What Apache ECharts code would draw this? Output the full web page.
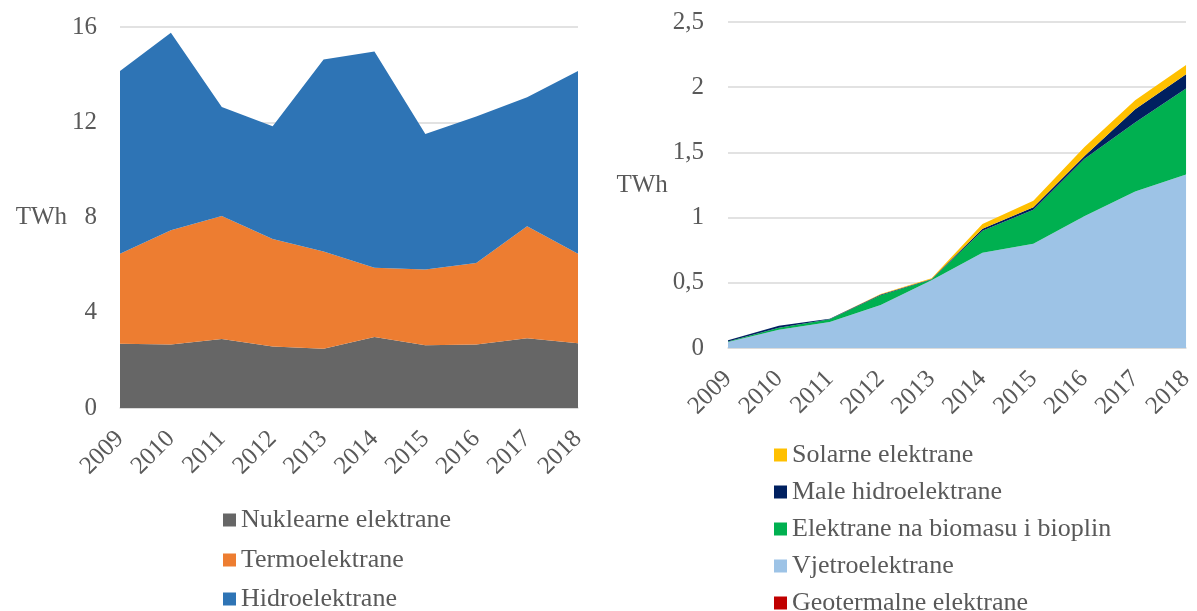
<!DOCTYPE html>
<html>
<head>
<meta charset="utf-8">
<script src="https://cdn.jsdelivr.net/npm/echarts@6/dist/echarts.min.js"></script>
<style>
html,body{margin:0;padding:0;background:#fff;}
#c{width:1197px;height:611px;}
</style>
</head>
<body>
<div id="c"></div>
<script>
// ---- data ----
const years = ['2009','2010','2011','2012','2013','2014','2015','2016','2017','2018'];

// left chart (TWh)
const nuklearne = [2.70, 2.67, 2.90, 2.58, 2.49, 2.98, 2.63, 2.67, 2.93, 2.72];
const termo     = [3.78, 4.79, 5.16, 4.52, 4.08, 2.91, 3.19, 3.42, 4.70, 3.76];
const hidro     = [7.67, 8.30, 4.58, 4.73, 8.06, 9.08, 5.69, 6.15, 5.42, 7.67];
const leftTicks = [0, 4, 8, 12, 16];

// right chart (TWh)
const geotermalne = [0, 0, 0, 0, 0, 0, 0, 0, 0, 0];
const vjetro      = [0.046, 0.14, 0.20, 0.33, 0.52, 0.73, 0.80, 1.01, 1.20, 1.33];
const biomasa     = [0.004, 0.015, 0.02, 0.075, 0.005, 0.17, 0.26, 0.44, 0.53, 0.66];
const maleHidro   = [0.01, 0.015, 0.005, 0.005, 0.005, 0.015, 0.02, 0.02, 0.10, 0.11];
const solarne     = [0, 0, 0, 0.005, 0.005, 0.035, 0.05, 0.07, 0.07, 0.07];
const rightTicks  = ['0', '0,5', '1', '1,5', '2', '2,5'];

const leftNames  = ['Nuklearne elektrane', 'Termoelektrane', 'Hidroelektrane'];
const rightNames = ['Geotermalne elektrane', 'Vjetroelektrane', 'Elektrane na biomasu i bioplin', 'Male hidroelektrane', 'Solarne elektrane'];
const rightLegendOrder = ['Solarne elektrane', 'Male hidroelektrane', 'Elektrane na biomasu i bioplin', 'Vjetroelektrane', 'Geotermalne elektrane'];

// ---- style ----
const FONT = '"Liberation Serif", "Times New Roman", serif';
const TXT = '#595959';
const GRID = '#D9D9D9';

function area(name, data, color, stack, xi, yi) {
  return {
    name: name, type: 'line', stack: stack, data: data,
    xAxisIndex: xi, yAxisIndex: yi,
    symbol: 'none', smooth: false,
    lineStyle: { width: 0, color: color },
    itemStyle: { color: color },
    areaStyle: { color: color, opacity: 1 },
    emphasis: { disabled: true }
  };
}

function legendItem(name, left, centerY) {
  return {
    data: [name], orient: 'vertical', left: left, top: centerY - 13, padding: 0,
    icon: 'rect', itemWidth: 13, itemHeight: 13, itemGap: 0,
    textStyle: { fontFamily: FONT, fontSize: 26, color: TXT, lineHeight: 26 },
    selectedMode: false
  };
}

const chart = echarts.init(document.getElementById('c'), null, { renderer: 'canvas' });

function xAxisBase(gi) {
  return {
    gridIndex: gi,
    type: 'category', data: years, boundaryGap: false,
    axisLine: { show: true, lineStyle: { color: GRID, width: 1.5 } },
    axisTick: { show: false },
    axisLabel: { rotate: 45, fontFamily: FONT, fontSize: 25, color: TXT, margin: 27, interval: 0 },
    splitLine: { show: false }
  };
}

const leftLegendCenters = [520, 560, 599];
const rightLegendCenters = [455, 492, 529, 566, 603];

chart.setOption({
  animation: false,
  textStyle: { fontFamily: FONT },
  grid: [
    { left: 120, right: 619, top: 27, bottom: 203 },
    { left: 728, right: 5, top: 22, bottom: 263 }
  ],
  xAxis: [ xAxisBase(0), xAxisBase(1) ],
  yAxis: [
    {
      gridIndex: 0, type: 'value', min: leftTicks[0], max: leftTicks[leftTicks.length - 1], interval: 4,
      name: 'TWh', nameLocation: 'middle', nameRotate: 0, nameGap: 53,
      nameTextStyle: { fontFamily: FONT, fontSize: 25, color: TXT, align: 'right', verticalAlign: 'middle' },
      axisLine: { show: false }, axisTick: { show: false },
      axisLabel: { fontFamily: FONT, fontSize: 25, color: TXT, margin: 23 },
      splitLine: { show: true, lineStyle: { color: GRID, width: 1.5 } }
    },
    {
      gridIndex: 1, type: 'value', min: 0, max: 2.5, interval: 0.5,
      name: 'TWh', nameLocation: 'middle', nameRotate: 0, nameGap: 56,
      nameTextStyle: { fontFamily: FONT, fontSize: 25, color: TXT, align: 'right', verticalAlign: 'middle' },
      axisLine: { show: false }, axisTick: { show: false },
      axisLabel: {
        fontFamily: FONT, fontSize: 25, color: TXT, margin: 24,
        formatter: function (v) { return rightTicks[Math.round(v / 0.5)]; }
      },
      splitLine: { show: true, lineStyle: { color: GRID, width: 1.5 } }
    }
  ],
  legend: leftNames.map(function (n, i) { return legendItem(n, 223, leftLegendCenters[i]); })
    .concat(rightLegendOrder.map(function (n, i) { return legendItem(n, 774, rightLegendCenters[i]); })),
  series: [
    area(leftNames[0], nuklearne, '#666666', 'L', 0, 0),
    area(leftNames[1], termo, '#ED7D31', 'L', 0, 0),
    area(leftNames[2], hidro, '#2E74B5', 'L', 0, 0),
    area(rightNames[0], geotermalne, '#C00000', 'R', 1, 1),
    area(rightNames[1], vjetro, '#9DC3E6', 'R', 1, 1),
    area(rightNames[2], biomasa, '#00B050', 'R', 1, 1),
    area(rightNames[3], maleHidro, '#002060', 'R', 1, 1),
    area(rightNames[4], solarne, '#FFC000', 'R', 1, 1)
  ]
});
</script>
</body>
</html>
